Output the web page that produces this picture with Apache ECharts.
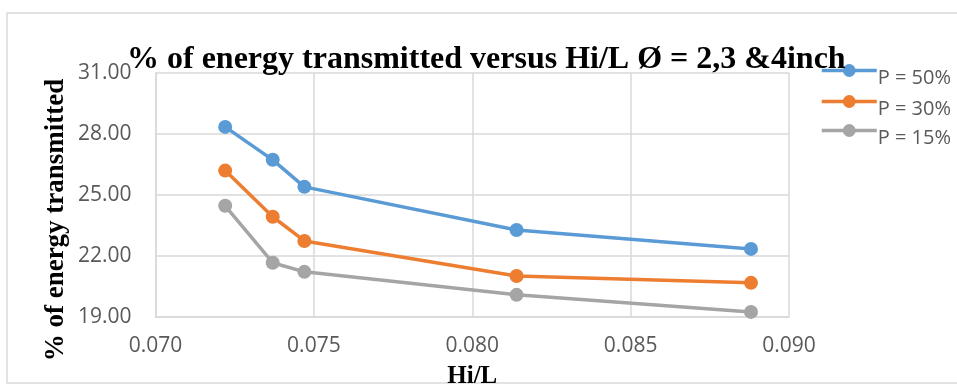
<!DOCTYPE html>
<html>
<head>
<meta charset="utf-8">
<script src="https://cdn.jsdelivr.net/npm/echarts@6/dist/echarts.min.js"></script>
<style>
  html, body { margin: 0; padding: 0; background: #ffffff; }
  #chart { width: 957px; height: 385px; }
</style>
</head>
<body>
<div id="chart"></div>
<script>
// Hi/L ratio for each measured configuration
const hiL = [0.0722, 0.0737, 0.0747, 0.0814, 0.0888];

// Percentage of energy transmitted at each porosity
const p50 = [28.35, 26.73, 25.40, 23.28, 22.35];
const p30 = [26.20, 23.93, 22.74, 21.02, 20.68];
const p15 = [24.47, 21.67, 21.22, 20.09, 19.25];

const seriesNames = ['P = 50%', 'P = 30%', 'P = 15%'];
const seriesColors = ['#5B9BD5', '#ED7D31', '#A5A5A5'];
const seriesValues = [p50, p30, p15];

const titleText = '% of energy transmitted versus Hi/L \u00D8 = 2,3 &4inch';
const yName = '% of energy transmitted';
const xName = 'Hi/L';

const chart = echarts.init(document.getElementById('chart'), null, { renderer: 'canvas' });

const series = seriesNames.map((name, i) => ({
  name: name,
  type: 'line',
  data: hiL.map((x, j) => [x, seriesValues[i][j]]),
  symbol: 'circle',
  symbolSize: 14,
  lineStyle: { width: 3.5, color: seriesColors[i] },
  itemStyle: { color: seriesColors[i] },
  z: 3 - i
}));

// One legend block per series so each row can sit at its own height,
// with the label dropped slightly below the line sample.
const legendTops = [48, 79, 108];
const legends = seriesNames.map((name, i) => ({
  orient: 'vertical',
  left: 815,
  top: legendTops[i],
  itemWidth: 55,
  itemHeight: 16,
  data: [name],
  itemStyle: { borderWidth: 0 },
  lineStyle: { width: 3.5 },
  formatter: n => '{t|' + n + '}',
  textStyle: {
    color: '#595959',
    rich: {
      t: {
        fontFamily: 'Open Sans',
        fontSize: 20,
        color: '#595959',
        lineHeight: 22,
        padding: [15, 0, 0, -4]
      }
    }
  }
}));

chart.setOption({
  animation: false,
  backgroundColor: '#ffffff',
  title: {
    text: titleText,
    left: 122,
    top: 39,
    textStyle: {
      fontFamily: 'Liberation Serif',
      fontWeight: 'bold',
      fontSize: 32,
      color: '#000000'
    }
  },
  legend: legends,
  grid: {
    left: 155.5,
    right: 168,
    top: 73,
    bottom: 68,
    containLabel: false,
    outerBoundsMode: 'none'
  },
  xAxis: {
    type: 'value',
    min: 0.070,
    max: 0.090,
    interval: 0.005,
    name: xName,
    nameLocation: 'middle',
    nameGap: 47,
    nameTextStyle: {
      fontFamily: 'Liberation Serif',
      fontWeight: 'bold',
      fontSize: 25,
      color: '#000000'
    },
    axisLine: { show: true, lineStyle: { color: '#d9d9d9', width: 1.5 } },
    axisTick: { show: false },
    axisLabel: {
      margin: 19,
      fontFamily: 'Open Sans',
      fontSize: 21,
      color: '#595959',
      formatter: v => v.toFixed(3)
    },
    splitLine: { show: true, lineStyle: { color: '#d9d9d9', width: 1.5 } }
  },
  yAxis: {
    type: 'value',
    min: 19,
    max: 31,
    interval: 3,
    axisLine: { show: true, lineStyle: { color: '#d9d9d9', width: 1.5 } },
    axisTick: { show: false },
    axisLabel: {
      margin: 24,
      fontFamily: 'Open Sans',
      fontSize: 21,
      color: '#595959',
      formatter: v => v.toFixed(2)
    },
    splitLine: { show: true, lineStyle: { color: '#d9d9d9', width: 1.5 } }
  },
  graphic: [
    {
      type: 'rect',
      shape: { x: 7, y: 13, width: 970, height: 370 },
      style: { fill: 'none', stroke: '#d9d9d9', lineWidth: 1.5 },
      silent: true,
      z: -10
    },
    {
      type: 'text',
      x: 56,
      y: 220,
      rotation: Math.PI / 2,
      style: {
        text: yName,
        fontFamily: 'Liberation Serif',
        fontWeight: 'bold',
        fontSize: 27,
        fill: '#000000',
        textAlign: 'center',
        textVerticalAlign: 'middle'
      }
    }
  ],
  series: series
});
</script>
</body>
</html>
